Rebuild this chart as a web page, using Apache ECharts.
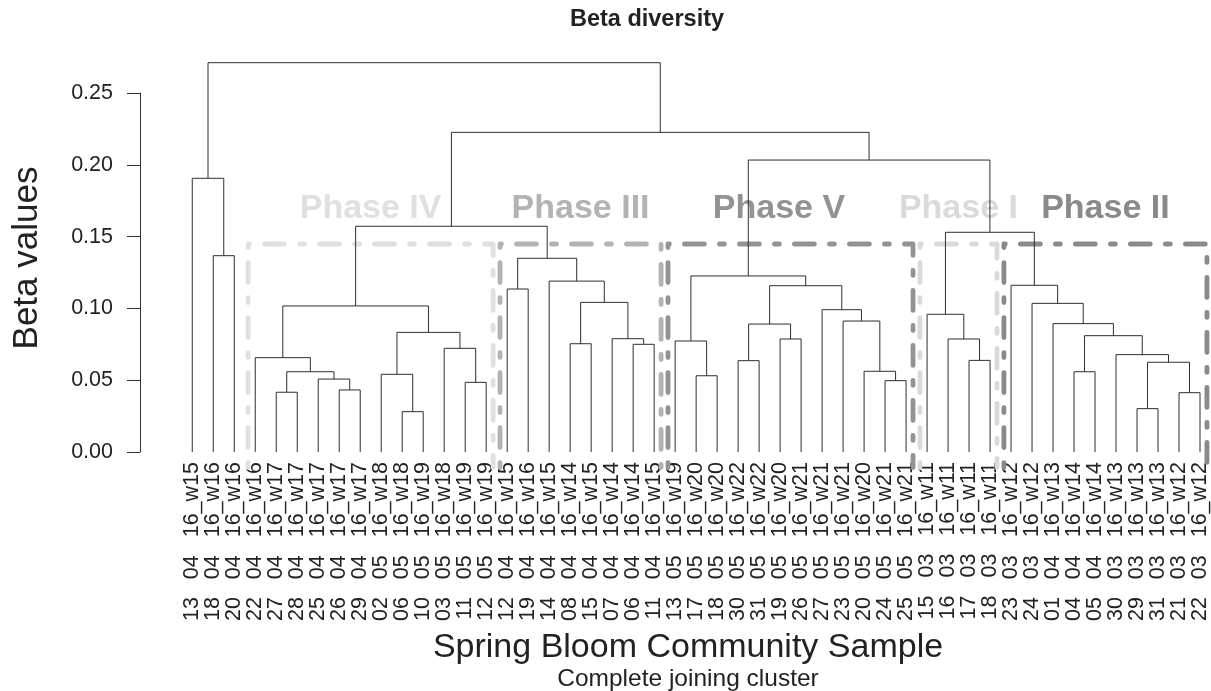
<!DOCTYPE html>
<html>
<head>
<meta charset="utf-8">
<title>Beta diversity</title>
<script src="https://cdn.jsdelivr.net/npm/echarts@6/dist/echarts.min.js"></script>
<style>
  html, body { margin: 0; padding: 0; background: #ffffff; }
  #chart { width: 1211px; height: 691px; }
</style>
</head>
<body>
<div id="chart"></div>
<script>
// Samples in dendrogram order (day, month, year_week)
const leafLabels = [
  '13   04   16_w15', '18   04   16_w16', '20   04   16_w16', '22   04   16_w16',
  '27   04   16_w17', '28   04   16_w17', '25   04   16_w17', '26   04   16_w17',
  '29   04   16_w17', '02   05   16_w18', '06   05   16_w18', '10   05   16_w19',
  '03   05   16_w18', '11   05   16_w19', '12   05   16_w19', '12   04   16_w15',
  '19   04   16_w16', '14   04   16_w15', '08   04   16_w14', '15   04   16_w15',
  '07   04   16_w14', '06   04   16_w14', '11   04   16_w15', '13   05   16_w19',
  '17   05   16_w20', '18   05   16_w20', '30   05   16_w22', '31   05   16_w22',
  '19   05   16_w20', '26   05   16_w21', '27   05   16_w21', '23   05   16_w21',
  '20   05   16_w20', '24   05   16_w21', '25   05   16_w21', '15   03   16_w11',
  '16   03   16_w11', '17   03   16_w11', '18   03   16_w11', '23   03   16_w12',
  '24   03   16_w12', '01   04   16_w13', '04   04   16_w14', '05   04   16_w14',
  '30   03   16_w13', '29   03   16_w13', '31   03   16_w13', '21   03   16_w12',
  '22   03   16_w12'
];

// Merge table (hclust style): negative = leaf position, positive = earlier merge row (1-based)
const mergePairs = [
  [-2, -3], [-1, 1],
  [-5, -6], [-8, -9], [-7, 4], [3, 5], [-4, 6],
  [-11, -12], [-10, 8], [-14, -15], [-13, 10], [9, 11], [7, 12],
  [-16, -17], [-19, -20], [-22, -23], [-21, 16], [15, 17], [-18, 18], [14, 19],
  [13, 20],
  [-25, -26], [-24, 22], [-27, -28], [-29, -30], [24, 25], [-34, -35], [-33, 27],
  [-32, 28], [-31, 29], [26, 30], [23, 31],
  [-38, -39], [-37, 33], [-36, 34],
  [-46, -47], [-48, -49], [36, 37], [-45, 38], [-43, -44], [40, 39], [-42, 41],
  [-41, 42], [-40, 43],
  [35, 44], [32, 45], [21, 46], [2, 47]
];
const mergeHeights = [
  0.1367, 0.1906,
  0.0416, 0.0432, 0.0508, 0.0559, 0.0657,
  0.0281, 0.0541, 0.0485, 0.0722, 0.0833, 0.1017,
  0.1135, 0.0754, 0.0750, 0.0789, 0.1042, 0.1190, 0.1349,
  0.1572,
  0.0531, 0.0773, 0.0636, 0.0787, 0.0891, 0.0497, 0.0562,
  0.0912, 0.0991, 0.1158, 0.1226,
  0.0638, 0.0787, 0.0959,
  0.0302, 0.0413, 0.0625, 0.0678, 0.0559, 0.0810, 0.0894,
  0.1035, 0.1161,
  0.1530, 0.2033, 0.2226, 0.2711
];

// Highlighted clusters (cut of the tree into 7 groups)
const phaseNames = ['Phase IV', 'Phase III', 'Phase V', 'Phase I', 'Phase II'];
const phaseFirstLeaf = [4, 16, 24, 36, 40];
const phaseLastLeaf = [15, 23, 35, 39, 49];
const clusterCount = 7;

// ---- styling / layout ----
const FONT = '"Liberation Sans", Arial, Helvetica, sans-serif';
const phaseColors = ['#e0e0e0', '#b3b3b3', '#939393', '#dadada', '#8a8a8a'];
const phaseLabelShift = [0, 0, -0.55, 0, 0];   // in leaf units
const phaseLabelLevel = 0.1695;                // beta value of label centre
const treeColor = '#2e2e2e';

// Node positions: each merge sits midway between its two children
const nodeX = [];
const links = mergePairs.map(function (pair, i) {
  const a = pair[0] < 0 ? [-pair[0], 0] : [nodeX[pair[0] - 1], mergeHeights[pair[0] - 1]];
  const b = pair[1] < 0 ? [-pair[1], 0] : [nodeX[pair[1] - 1], mergeHeights[pair[1] - 1]];
  nodeX[i] = (a[0] + b[0]) / 2;
  return [a[0], a[1], b[0], b[1], mergeHeights[i]];
});

// Rectangles like rect.hclust: top halfway between the heights that give k clusters
const sortedH = mergeHeights.slice().sort(function (p, q) { return q - p; });
const boxTop = (sortedH[clusterCount - 2] + sortedH[clusterCount - 1]) / 2;
const boxBottom = -0.04 * sortedH[0];
const boxes = phaseNames.map(function (name, i) {
  return [phaseFirstLeaf[i] - 0.34, phaseLastLeaf[i] + 0.33, boxTop, boxBottom, i];
});

const chart = echarts.init(document.getElementById('chart'), null, { renderer: 'canvas' });

chart.setOption({
  animation: false,
  backgroundColor: '#ffffff',
  grid: { left: 171.27, right: 0.8, top: 93, bottom: 239, containLabel: false },
  xAxis: {
    type: 'value',
    min: 0,
    max: 49.4,
    interval: 1,
    axisLine: { show: false, onZero: false },
    axisTick: { show: false },
    splitLine: { show: false },
    axisLabel: {
      rotate: 90,
      margin: 10,
      fontSize: 21.5,
      fontFamily: FONT,
      color: '#222222',
      formatter: function (v) {
        const k = Math.round(v);
        if (Math.abs(v - k) > 1e-6 || k < 1 || k > leafLabels.length) return '';
        return leafLabels[k - 1];
      }
    }
  },
  yAxis: {
    type: 'value',
    min: 0,
    max: 0.25,
    interval: 0.05,
    offset: 31.27,
    axisLine: { show: true, onZero: false, lineStyle: { color: '#333333', width: 1 } },
    axisTick: { show: true, length: 13, lineStyle: { color: '#333333', width: 1 } },
    splitLine: { show: false },
    axisLabel: {
      margin: 27,
      fontSize: 21.5,
      fontFamily: FONT,
      color: '#222222',
      formatter: function (v) { return v.toFixed(2); }
    }
  },
  graphic: [
    { type: 'text', x: 647, y: 20, style: { text: 'Beta diversity', font: 'bold 23.5px ' + FONT, fill: '#222222', align: 'center', verticalAlign: 'middle' } },
    { type: 'text', x: 27, y: 258, rotation: Math.PI / 2, style: { text: 'Beta values', font: '35px ' + FONT, fill: '#222222', align: 'center', verticalAlign: 'middle' } },
    { type: 'text', x: 688, y: 648, style: { text: 'Spring Bloom Community Sample', font: '34px ' + FONT, fill: '#222222', align: 'center', verticalAlign: 'middle' } },
    { type: 'text', x: 688, y: 679, style: { text: 'Complete joining cluster', font: '24.5px ' + FONT, fill: '#222222', align: 'center', verticalAlign: 'middle' } }
  ],
  series: [
    {
      // dash-dot frames around the phases, with their names
      type: 'custom',
      clip: false,
      silent: true,
      z: 1,
      data: boxes,
      renderItem: function (params, api) {
        const left = api.value(0), right = api.value(1), top = api.value(2), bottom = api.value(3);
        const idx = api.value(4);
        const pLB = api.coord([left, bottom]);
        const pLT = api.coord([left, top]);
        const pRT = api.coord([right, top]);
        const pRB = api.coord([right, bottom]);
        const pLabel = api.coord([(left + right) / 2 + phaseLabelShift[idx], phaseLabelLevel]);
        return {
          type: 'group',
          children: [
            {
              type: 'polyline',
              shape: { points: [pLB, pLT, pRT, pRB] },
              style: { stroke: phaseColors[idx], lineWidth: 4.8, lineDash: [5, 15, 20, 15], lineCap: 'round', lineJoin: 'round', fill: null }
            },
            {
              type: 'text',
              x: pLabel[0], y: pLabel[1],
              style: { text: phaseNames[idx], font: 'bold 34px ' + FONT, fill: phaseColors[idx], align: 'center', verticalAlign: 'middle' }
            }
          ]
        };
      }
    },
    {
      // dendrogram branches
      type: 'custom',
      clip: false,
      silent: true,
      z: 3,
      data: links,
      renderItem: function (params, api) {
        const p0 = api.coord([api.value(0), api.value(1)]);
        const p1 = api.coord([api.value(0), api.value(4)]);
        const p2 = api.coord([api.value(2), api.value(4)]);
        const p3 = api.coord([api.value(2), api.value(3)]);
        return {
          type: 'polyline',
          shape: { points: [p0, p1, p2, p3] },
          style: { stroke: treeColor, lineWidth: 1, fill: null }
        };
      }
    }
  ]
});
</script>
</body>
</html>
